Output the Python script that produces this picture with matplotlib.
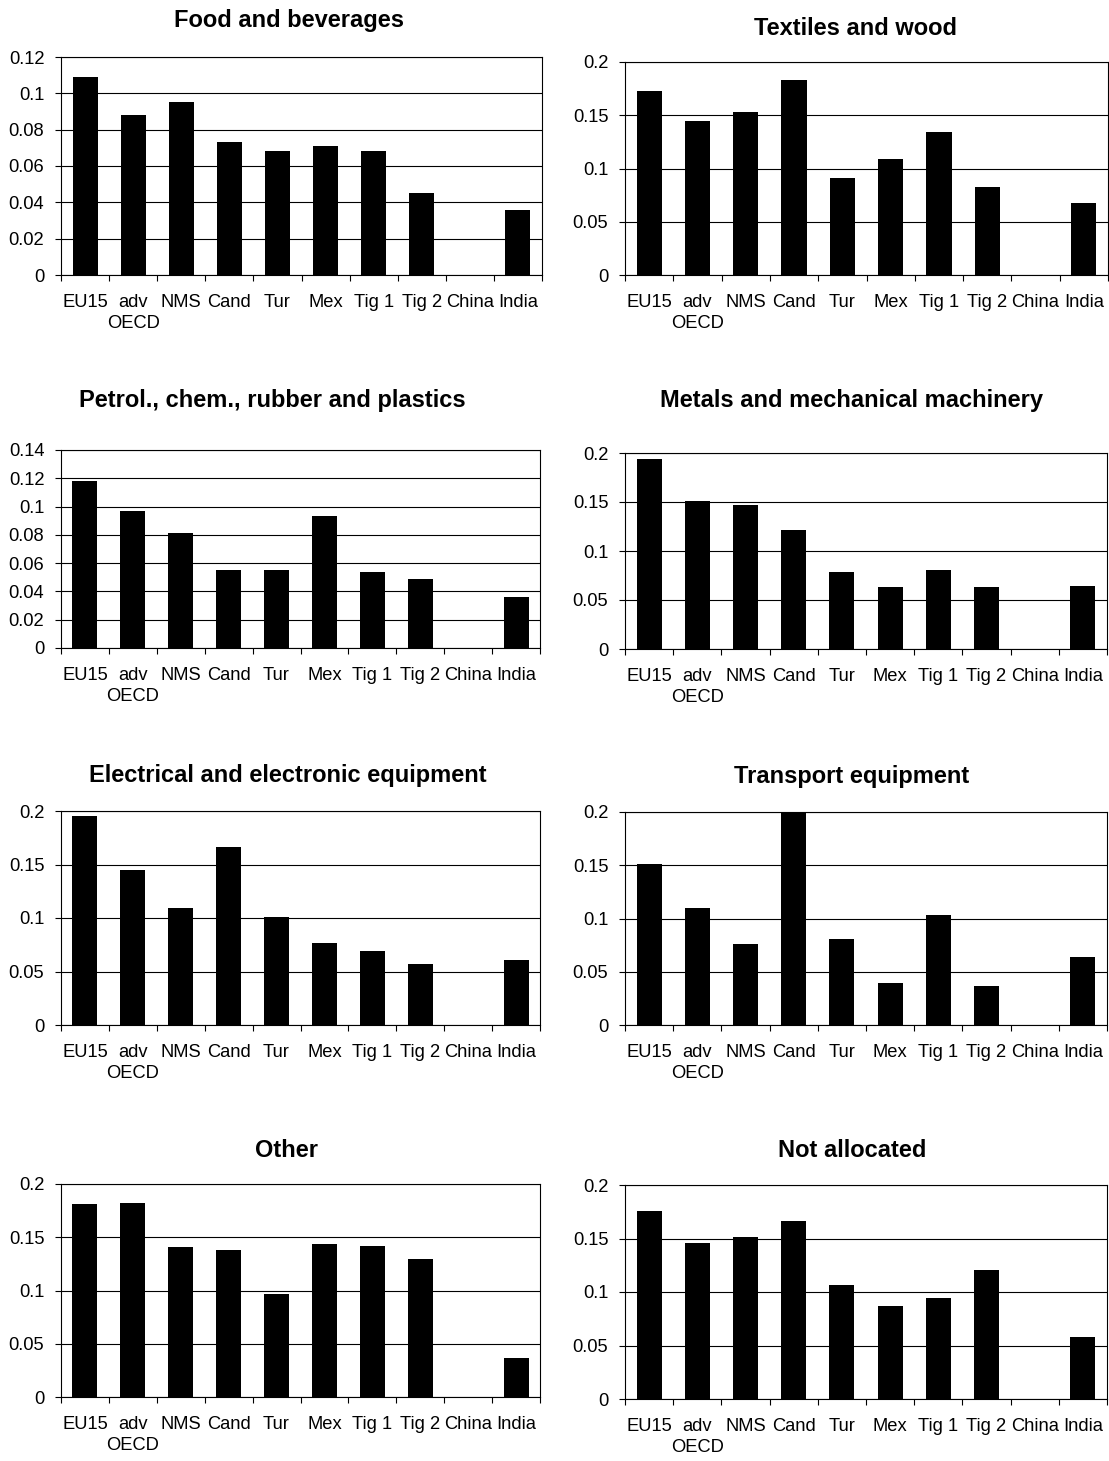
import numpy as np
import matplotlib.pyplot as plt
from matplotlib.ticker import FuncFormatter

plt.rcParams['font.family'] = ['Liberation Sans', 'DejaVu Sans']

# data
categories = ['EU15', 'adv\nOECD', 'NMS', 'Cand', 'Tur', 'Mex', 'Tig 1', 'Tig 2', 'China', 'India']

titles = ['Food and beverages', 'Textiles and wood',
          'Petrol., chem., rubber and plastics', 'Metals and mechanical machinery',
          'Electrical and electronic equipment', 'Transport equipment',
          'Other', 'Not allocated']

food = [0.109, 0.088, 0.095, 0.073, 0.068, 0.071, 0.068, 0.045, 0.0, 0.036]
textiles = [0.173, 0.145, 0.153, 0.183, 0.091, 0.109, 0.134, 0.083, 0.0, 0.068]
petrol = [0.118, 0.097, 0.081, 0.055, 0.055, 0.093, 0.054, 0.049, 0.0, 0.036]
metals = [0.194, 0.151, 0.147, 0.121, 0.079, 0.063, 0.081, 0.063, 0.0, 0.064]
electrical = [0.195, 0.145, 0.109, 0.166, 0.101, 0.077, 0.069, 0.057, 0.0, 0.061]
transport = [0.151, 0.110, 0.076, 0.199, 0.081, 0.039, 0.103, 0.037, 0.0, 0.064]
other = [0.181, 0.182, 0.141, 0.138, 0.097, 0.144, 0.142, 0.130, 0.0, 0.037]
not_allocated = [0.176, 0.146, 0.151, 0.166, 0.107, 0.087, 0.094, 0.121, 0.0, 0.058]

series = [food, textiles, petrol, metals, electrical, transport, other, not_allocated]
y_max = [0.12, 0.2, 0.14, 0.2, 0.2, 0.2, 0.2, 0.2]
y_step = [0.02, 0.05, 0.02, 0.05, 0.05, 0.05, 0.05, 0.05]

# layout in pixels (left, right, top, bottom), title centre x and baseline y
W, H = 1109, 1461
boxes = [(61, 542, 57, 275), (625, 1108, 62, 275),
         (61, 540, 450, 648), (625, 1107, 453, 649),
         (61, 540, 811, 1025), (625, 1107, 812, 1025),
         (61, 540, 1184, 1397), (625, 1107, 1185, 1399)]
title_pos = [(289, 27), (856, 35), (272, 407), (852, 407),
             (288, 782), (852, 783), (287, 1157), (852, 1157)]

fig = plt.figure(figsize=(W / 100, H / 100), dpi=100)

fmt = FuncFormatter(lambda v, p: '0' if abs(v) < 1e-9 else ('%g' % round(v, 4)))

for k in range(8):
    l, r, t, b = boxes[k]
    ax = fig.add_axes([l / W, 1 - b / H, (r - l) / W, (b - t) / H])
    x = np.arange(len(categories)) + 0.5
    ax.bar(x, series[k], width=0.52, color='black', zorder=3)
    ax.set_xlim(0, len(categories))
    ax.set_ylim(0, y_max[k])
    ax.set_yticks(np.arange(0, y_max[k] + 1e-9, y_step[k]))
    ax.yaxis.set_major_formatter(fmt)
    ax.yaxis.grid(True, color='black', lw=0.8, zorder=0)
    ax.set_axisbelow(True)

    # ticks between categories, labels under the bars
    ax.set_xticks(np.arange(0, len(categories) + 1))
    ax.set_xticklabels([])
    ax.set_xticks(x, minor=True)
    ax.set_xticklabels(categories, minor=True, fontsize=13.2, linespacing=1.3)
    ax.tick_params(axis='x', which='major', direction='out', length=4, width=0.8)
    ax.tick_params(axis='x', which='minor', length=0, pad=14)
    ax.tick_params(axis='y', direction='out', length=4, width=0.8, labelsize=13.2, pad=8)
    for s in ax.spines.values():
        s.set_linewidth(0.8)
        s.set_color('black')

    tx, ty = title_pos[k]
    fig.text(tx / W, 1 - ty / H, titles[k], ha='center', va='baseline',
             fontsize=17, fontweight='bold')

fig.savefig('out.png', dpi=100)
